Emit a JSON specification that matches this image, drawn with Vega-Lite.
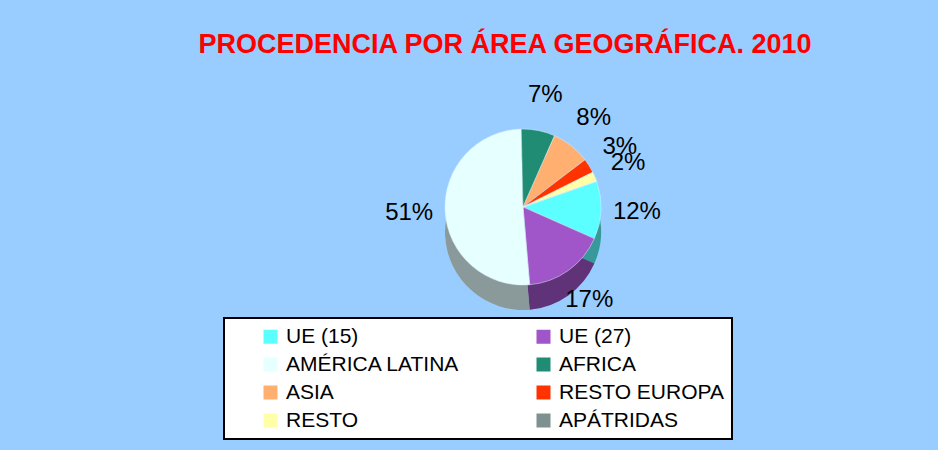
{
  "$schema": "https://vega.github.io/schema/vega-lite/v6.json",
  "autosize": {"type": "none"},
  "width": 830,
  "height": 254,
  "padding": {"left": 108, "top": 80, "right": 0, "bottom": 116},
  "background": "#99CCFF",
  "title": {
    "text": "PROCEDENCIA POR ÁREA GEOGRÁFICA. 2010",
    "color": "#FF0000",
    "font": "Liberation Sans",
    "fontSize": 27,
    "fontWeight": "bold",
    "anchor": "middle",
    "baseline": "alphabetic",
    "offset": 27,
    "dx": -18,
    "dy": 27
  },
  "data": {
    "values": [
      {"n": 1, "area": "UE (15)", "pct": 0.12},
      {"n": 2, "area": "UE (27)", "pct": 0.17},
      {"n": 3, "area": "AMÉRICA LATINA", "pct": 0.51},
      {"n": 4, "area": "AFRICA", "pct": 0.07},
      {"n": 5, "area": "ASIA", "pct": 0.08},
      {"n": 6, "area": "RESTO EUROPA", "pct": 0.03},
      {"n": 7, "area": "RESTO", "pct": 0.02},
      {"n": 8, "area": "APÁTRIDAS", "pct": 0.0}
    ]
  },
  "encoding": {
    "theta": {"field": "pct", "type": "quantitative", "stack": true, "scale": {"range": [1.234, 7.517]}},
    "order": {"field": "n", "type": "quantitative"}
  },
  "layer": [
    {
      "mark": {"type": "arc", "outerRadius": 78, "yOffset": 25, "strokeWidth": 0},
      "encoding": {
        "color": {
          "field": "area",
          "type": "nominal",
          "scale": {
            "domain": ["UE (15)", "AMÉRICA LATINA", "ASIA", "RESTO", "UE (27)", "AFRICA", "RESTO EUROPA", "APÁTRIDAS"],
            "range": ["#5CFFFF", "#E6FFFF", "#FFB070", "#FFFFA8", "#A055C8", "#1F8C73", "#FF3300", "#7F9090"]
          },
          "legend": {
            "orient": "none",
            "legendX": 116,
            "legendY": 238,
            "columns": 2,
            "columnPadding": 73,
            "rowPadding": 6,
            "symbolType": "square",
            "symbolSize": 196,
            "symbolStrokeWidth": 0,
            "labelFont": "Liberation Sans",
            "labelFontSize": 21,
            "labelColor": "black",
            "labelOffset": 5,
            "labelLimit": 400,
            "fillColor": "white",
            "strokeColor": "black",
            "padding": 8,
            "title": "\u00a0",
            "titleOrient": "left",
            "titleFontSize": 21,
            "titlePadding": 28,
            "encode": {"legend": {"update": {"strokeWidth": {"value": 2}}}}
          }
        }
      }
    },
    {
      "mark": {"type": "arc", "outerRadius": 78, "yOffset": 25, "color": "black", "opacity": 0.4, "strokeWidth": 0},
      "encoding": {}
    },
    {
      "mark": {"type": "arc", "outerRadius": 78, "stroke": "#DDEEFF", "strokeWidth": 0.5},
      "encoding": {"color": {"field": "area", "type": "nominal"}}
    },
    {
      "transform": [{"filter": "datum.pct > 0"}],
      "mark": {"type": "text", "radius": 114, "font": "Liberation Sans", "fontSize": 24, "color": "black"},
      "encoding": {"text": {"field": "pct", "type": "quantitative", "format": ".0%"}}
    }
  ]
}
